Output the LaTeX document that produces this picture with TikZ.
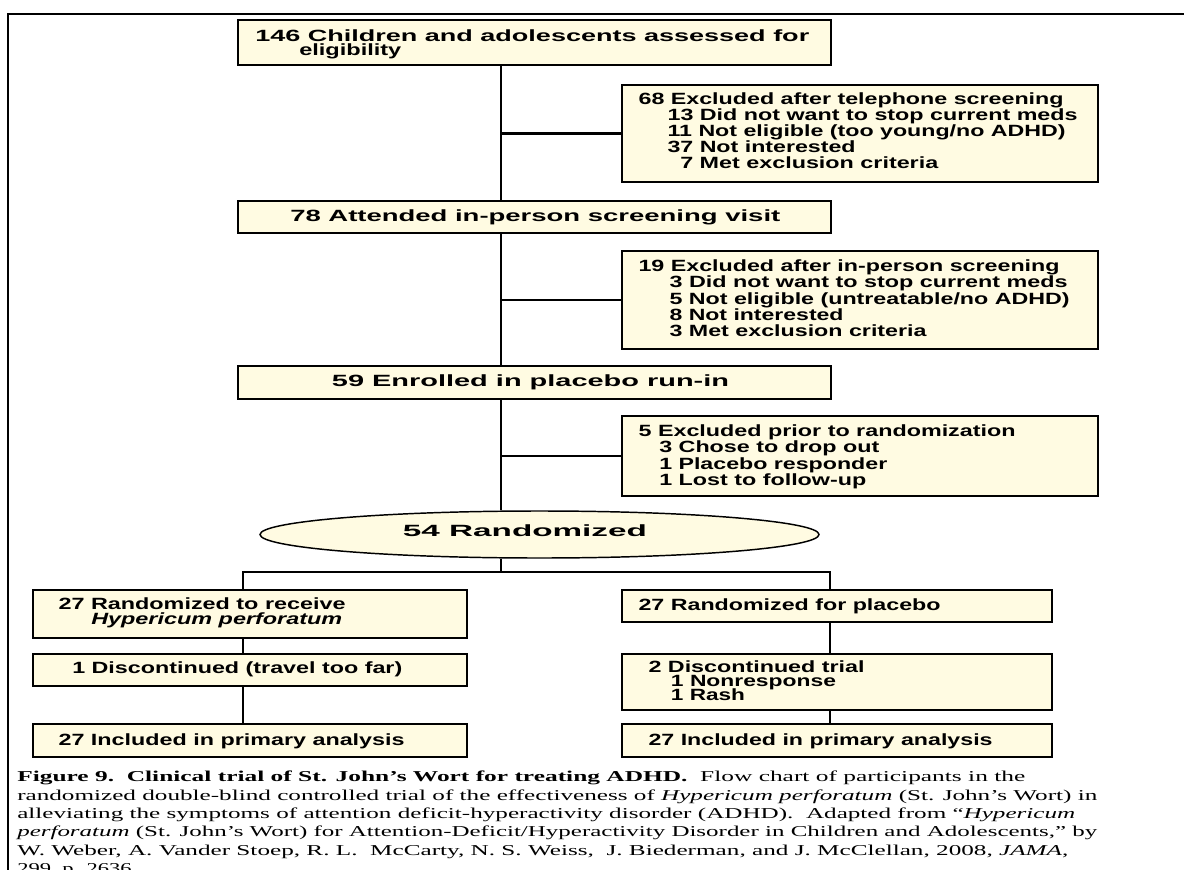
\documentclass[tikz,border=0pt]{standalone}
\usepackage{fontspec}
\usepackage{graphicx}
\setmainfont{Liberation Serif}
\newfontfamily\boxfont{Liberation Sans}
\usetikzlibrary{shapes.geometric}
\definecolor{cream}{HTML}{FFFBE2}
\tikzset{
 box/.style={draw=black, line width=1.9pt, fill=cream, rectangle, inner sep=0pt},
 oval/.style={draw=black, line width=1.1pt, fill=cream, ellipse, inner sep=0pt},
 txt/.style={inner sep=0pt, anchor=base west, font=\boxfont\bfseries\fontsize{12.2}{14}\selectfont},
 capt/.style={inner sep=0pt, anchor=base west, font=\fontsize{11.3}{13.7}\selectfont},
 conn/.style={line width=2pt},
 framel/.style={line width=1.3pt},
}
\newcommand\mkbox[5]{\node[box, minimum width={(#4-#2)*0.75pt}, minimum height={(#5-#3)*0.75pt}] (#1) at ({(#2+#4)/2},{(#3+#5)/2}) {};}
\newcommand\fitw[2]{\resizebox{\dimexpr 0.75pt*#1\relax}{\height}{#2}}
\newcommand\tline[6][txt]{\node[#1] (#2) at (#3,#4) {\fitw{#5}{#6}};}
\begin{document}
\begin{tikzpicture}[x=0.75pt,y=-0.75pt]
\useasboundingbox (0,0) rectangle (1184,870);
\clip (0,0) rectangle (1184,870);
% frame
\draw[framel] (8,870) -- (8,14) -- (1184,14);
% spine coordinates
\coordinate (spine) at (501,0);
\coordinate (lx) at (243,0);
\coordinate (rx) at (830,0);
\coordinate (br) at (501,572);
% boxes
\mkbox{b1}{238}{20}{831}{65}
\mkbox{e1}{622}{85}{1098}{182}
\mkbox{b2}{238}{201}{831}{233}
\mkbox{e2}{622}{251}{1098}{349}
\mkbox{b3}{238}{366}{831}{399}
\mkbox{e3}{622}{416}{1098}{496}
\node[oval, minimum width={559*0.75pt}, minimum height={47*0.75pt}] (ell) at (539.5,534.5) {};
\mkbox{l1}{33}{590}{467}{638}
\mkbox{l2}{33}{654}{467}{686}
\mkbox{l3}{33}{724}{467}{757}
\mkbox{r1}{622}{590}{1052}{622}
\mkbox{r2}{622}{654}{1052}{710}
\mkbox{r3}{622}{724}{1052}{757}
% connectors
\draw[conn] (b1.south -| spine) -- (b2.north -| spine);
\draw[conn] (b2.south -| spine) -- (b3.north -| spine);
\draw[conn] (b3.south -| spine) -- (ell.north -| spine);
\draw[conn] (e1.west) -- (e1.west -| spine);
\draw[conn] (e2.west) -- (e2.west -| spine);
\draw[conn] (e3.west) -- (e3.west -| spine);
\draw[conn] (ell.south -| spine) -- (br);
\draw[conn] (l1.north -| lx) -- (lx |- br) -- (rx |- br) -- (r1.north -| rx);
\draw[conn] (l1.south -| lx) -- (l2.north -| lx);
\draw[conn] (l2.south -| lx) -- (l3.north -| lx);
\draw[conn] (r1.south -| rx) -- (r2.north -| rx);
\draw[conn] (r2.south -| rx) -- (r3.north -| rx);
% texts
\tline{t1a}{255}{41.5}{554}{146 Children and adolescents assessed for}
\tline{t1b}{299}{55.5}{102}{eligibility}
\tline{te1a}{638.3}{104.3}{425}{68 Excluded after telephone screening}
\tline{te1b}{667.3}{120.7}{410}{13 Did not want to stop current meds}
\tline{te1c}{667.3}{136.7}{398}{11 Not eligible (too young/no ADHD)}
\tline{te1d}{667.3}{152.7}{188}{37 Not interested}
\tline{te1e}{680}{168.7}{258}{7 Met exclusion criteria}
\tline{t2}{290}{221.7}{490}{78 Attended in-person screening visit}
\tline{te2a}{638.3}{271}{421}{19 Excluded after in-person screening}
\tline{te2b}{669.3}{287.3}{398}{3 Did not want to stop current meds}
\tline{te2c}{669.3}{304}{400}{5 Not eligible (untreatable/no ADHD)}
\tline{te2d}{669.3}{320}{174}{8 Not interested}
\tline{te2e}{669.3}{336}{257}{3 Met exclusion criteria}
\tline{t3}{331.7}{386.7}{397}{59 Enrolled in placebo run-in}
\tline{te3a}{638.3}{436}{377}{5 Excluded prior to randomization}
\tline{te3b}{659}{452}{220}{3 Chose to drop out}
\tline{te3c}{659}{469}{228}{1 Placebo responder}
\tline{te3d}{659}{485}{207}{1 Lost to follow-up}
\tline{tell}{402.7}{536.7}{244}{54 Randomized}
\tline{tl1a}{58.3}{609}{287}{27 Randomized to receive}
\tline{tl1b}{91}{624.3}{251}{\itshape Hypericum perforatum}
\tline{tl2}{72}{673.3}{330}{1 Discontinued (travel too far)}
\tline{tl3}{58.3}{745}{346}{27 Included in primary analysis}
\tline{tr1}{638.3}{610}{302}{27 Randomized for placebo}
\tline{tr2a}{648.3}{672.7}{216}{2 Discontinued trial}
\tline{tr2b}{670.7}{686.7}{165}{1 Nonresponse}
\tline{tr2c}{670.7}{700.7}{74}{1 Rash}
\tline{tr3}{648.3}{745}{344}{27 Included in primary analysis}
% caption
\tline[capt]{c1}{17}{781.7}{1008}{\textbf{Figure 9.\ \ Clinical trial of St. John’s Wort for treating ADHD.}\ \ Flow chart of participants in the}
\tline[capt]{c2}{17}{800}{1080}{randomized double-blind controlled trial of the effectiveness of \textit{Hypericum perforatum} (St. John’s Wort) in}
\tline[capt]{c3}{17}{818.3}{1058}{alleviating the symptoms of attention deficit-hyperactivity disorder (ADHD).\ \ Adapted from “\textit{Hypericum}}
\tline[capt]{c4}{17}{836.7}{1080}{\textit{perforatum} (St. John’s Wort) for Attention-Deficit/Hyperactivity Disorder in Children and Adolescents,” by}
\tline[capt]{c5}{17}{855}{1051}{W. Weber, A. Vander Stoep, R. L.\ \ McCarty, N. S. Weiss,\ \ J. Biederman, and J. McClellan, 2008, \textit{JAMA},}
\tline[capt]{c6}{17}{873.3}{120}{299, p. 2636.}
\end{tikzpicture}
\end{document}
